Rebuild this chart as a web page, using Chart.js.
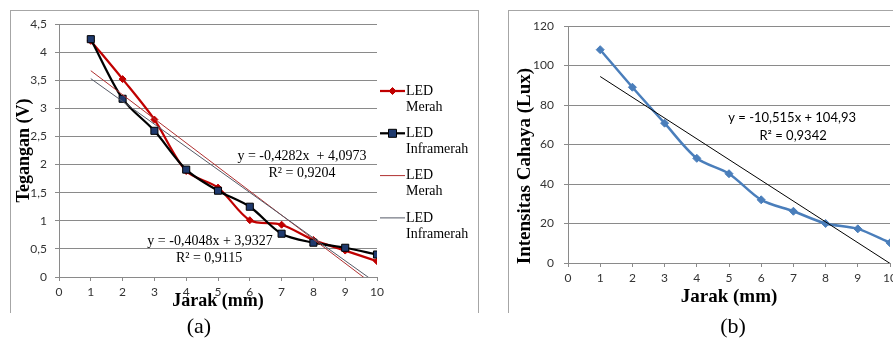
<!doctype html>
<html>
<head>
<meta charset="utf-8">
<title>Tegangan dan Intensitas Cahaya</title>
<script src="https://cdn.jsdelivr.net/npm/chart.js@4.4.1/dist/chart.umd.min.js"></script>
<style>
  body { margin: 0; width: 893px; height: 342px; overflow: hidden; background: #fff; position: relative; }
  .frame { position: absolute; top: 10px; height: 302px; border: 1px solid #a6a6a6; border-bottom: none; }
  .box { position: absolute; top: 0; }
  .cap { position: absolute; top: 313px; font: 22px "Liberation Serif", serif; color: #000; width: 40px; text-align: center; }
</style>
</head>
<body>
<div class="frame" style="left:10px; width:467px;"></div>
<div class="frame" style="left:508px; width:420px;"></div>
<div class="box" style="left:0px;"><canvas id="chartA" width="480" height="342"></canvas></div>
<div class="box" style="left:450px;"><canvas id="chartB" width="460" height="342"></canvas></div>
<div class="cap" style="left:179px;">(a)</div>
<div class="cap" style="left:713px;">(b)</div>
<script>
  // data
  const jarak = [1, 2, 3, 4, 5, 6, 7, 8, 9, 10];
  const teganganMerah = [4.20, 3.52, 2.80, 1.885, 1.59, 1.01, 0.93, 0.66, 0.47, 0.28];
  const teganganInfra = [4.23, 3.17, 2.60, 1.91, 1.535, 1.25, 0.77, 0.61, 0.52, 0.40];
  const intensitas = [108, 89, 70.8, 53, 45.2, 32, 26.2, 20, 17.3, 10.2];

  // linear trendlines [slope, intercept] as printed on the chart
  const trendMerah = [-0.4282, 4.0973];
  const trendInfra = [-0.4048, 3.9327];
  const trendCahaya = [-10.515, 104.93];

  const labelsA = ['LED Merah', 'LED Inframerah', 'LED Merah', 'LED Inframerah'];
  const labelB = 'Intensitas Cahaya';

  function pairs(xs, ys) {
    return xs.map((x, i) => ({ x: x, y: ys[i] }));
  }
  function trend(t) {
    const ends = [jarak[0], jarak[jarak.length - 1]];
    return ends.map(x => ({ x: x, y: t[0] * x + t[1] }));
  }
  function comma(v) {
    return String(v).replace('.', ',');
  }

  const tickFont = { family: 'Lato, "Liberation Sans", sans-serif', size: 12 };
  const serif = '"Liberation Serif", "Times New Roman", serif';
  const gridGray = '#8a8a8a';

  // draws legend entries, equation texts and a free vertical title
  const extras = {
    id: 'extras',
    afterDraw(chart, args, opts) {
      const ctx = chart.ctx;
      ctx.save();
      if (opts.legend) {
        const L = opts.legend;
        chart.data.datasets.forEach((ds, i) => {
          const y = L.y + i * L.gap;
          ctx.strokeStyle = ds.borderColor;
          ctx.lineWidth = ds.borderWidth;
          ctx.beginPath();
          ctx.moveTo(L.x, y);
          ctx.lineTo(L.x + L.len, y);
          ctx.stroke();
          const cx = L.x + L.len / 2;
          const r = ds.pointRadius;
          if (r) {
            ctx.fillStyle = ds.pointBackgroundColor;
            ctx.strokeStyle = ds.pointBorderColor;
            ctx.lineWidth = ds.pointBorderWidth;
            ctx.beginPath();
            if (ds.pointStyle === 'rect') {
              ctx.rect(cx - r * 0.8, y - r * 0.8, r * 1.6, r * 1.6);
            } else {
              ctx.moveTo(cx, y - r); ctx.lineTo(cx + r, y); ctx.lineTo(cx, y + r); ctx.lineTo(cx - r, y); ctx.closePath();
            }
            ctx.fill();
            ctx.stroke();
          }
          ctx.fillStyle = '#000';
          ctx.font = L.font;
          ctx.textBaseline = 'middle';
          ctx.textAlign = 'left';
          ds.label.split(' ').forEach((w, k) => ctx.fillText(w, L.x + L.len + 1, y + k * L.line));
        });
      }
      (opts.texts || []).forEach(t => {
        ctx.fillStyle = '#000';
        ctx.font = t.font;
        ctx.textAlign = 'center';
        ctx.textBaseline = 'middle';
        const px = chart.scales.x.getPixelForValue(t.at[0]);
        const py = chart.scales.y.getPixelForValue(t.at[1]);
        ctx.fillText(t.text, px, py);
      });
      if (opts.vtitle) {
        const v = opts.vtitle;
        ctx.translate(v.x, v.y);
        ctx.rotate(-Math.PI / 2);
        ctx.fillStyle = '#000';
        ctx.font = v.font;
        ctx.textAlign = 'center';
        ctx.textBaseline = 'middle';
        ctx.fillText(v.text, 0, 0);
      }
      ctx.restore();
    }
  };

  function xAxis(height, titleSize) {
    return {
      type: 'linear', min: 0, max: 10,
      ticks: { stepSize: 1, color: '#333', font: tickFont, padding: 4, maxRotation: 0 },
      grid: { drawOnChartArea: false, drawTicks: true, tickLength: 4, color: gridGray },
      border: { color: gridGray, width: 1 },
      title: { display: true, text: 'Jarak (mm)', color: '#000', font: { family: serif, size: titleSize, weight: 'bold' }, padding: 0 },
      afterFit(s) { s.height = height; }
    };
  }

  const chartA = new Chart(document.getElementById('chartA'), {
    type: 'line',
    data: {
      datasets: [
        {
          label: labelsA[0], data: pairs(jarak, teganganMerah), order: 4,
          borderColor: '#c00000', borderWidth: 2.25, tension: 0.3,
          pointStyle: 'rectRot', pointRadius: 3.5, pointBackgroundColor: '#c00000', pointBorderColor: '#c00000', pointBorderWidth: 1
        },
        {
          label: labelsA[1], data: pairs(jarak, teganganInfra), order: 3,
          borderColor: '#000000', borderWidth: 2.25, tension: 0.3,
          pointStyle: 'rect', pointRadius: 5, pointBackgroundColor: '#1f3a6e', pointBorderColor: '#000', pointBorderWidth: 1
        },
        {
          label: labelsA[2], data: trend(trendMerah), order: 2,
          borderColor: '#b03030', borderWidth: 1, pointRadius: 0, tension: 0
        },
        {
          label: labelsA[3], data: trend(trendInfra), order: 1,
          borderColor: '#555a66', borderWidth: 1, pointRadius: 0, tension: 0
        }
      ]
    },
    options: {
      responsive: false,
      animation: false,
      events: [],
      layout: { padding: { left: 0, top: 24, right: 103, bottom: 30 } },
      plugins: {
        legend: { display: false },
        tooltip: { enabled: false },
        extras: {
          legend: { x: 380, y: 91, gap: 42.3, len: 25, line: 16, font: '14px ' + serif },
          texts: [
            { text: 'y = -0,4282x  + 4,0973', at: [7.64, 2.15], font: '14px ' + serif },
            { text: 'R² = 0,9204', at: [7.64, 1.85], font: '14px ' + serif },
            { text: 'y = -0,4048x + 3,9327', at: [4.75, 0.64], font: '14px ' + serif },
            { text: 'R² = 0,9115', at: [4.72, 0.34], font: '14px ' + serif }
          ]
        }
      },
      scales: {
        x: xAxis(35, 18),
        y: {
          min: 0, max: 4.5,
          ticks: { stepSize: 0.5, color: '#333', font: tickFont, padding: 8, callback: v => comma(v) },
          grid: { color: gridGray, tickLength: 4 },
          border: { color: gridGray, width: 1 },
          title: { display: true, text: 'Tegangan (V)', color: '#000', font: { family: serif, size: 18, weight: 'bold' }, padding: { top: 14 } },
          afterFit(s) { s.width = 59; }
        }
      }
    },
    plugins: [extras]
  });

  const chartB = new Chart(document.getElementById('chartB'), {
    type: 'line',
    data: {
      datasets: [
        {
          label: labelB, data: pairs(jarak, intensitas), order: 2,
          borderColor: '#4a7ebb', borderWidth: 2.5, tension: 0.3,
          pointStyle: 'rectRot', pointRadius: 4, pointBackgroundColor: '#4a7ebb', pointBorderColor: '#4a7ebb', pointBorderWidth: 1
        },
        {
          label: 'Linear (' + labelB + ')', data: trend(trendCahaya), order: 1,
          borderColor: '#000', borderWidth: 1, pointRadius: 0, tension: 0
        }
      ]
    },
    options: {
      responsive: false,
      animation: false,
      events: [],
      layout: { padding: { left: 58, top: 26, right: 20, bottom: 34 } },
      plugins: {
        legend: { display: false },
        tooltip: { enabled: false },
        extras: {
          vtitle: { text: 'Intensitas Cahaya (Lux)', x: 75, y: 166, font: 'bold 19px ' + serif },
          texts: [
            { text: 'y = -10,515x + 104,93', at: [6.96, 73.4], font: '13px Lato, "Liberation Sans", sans-serif' },
            { text: 'R² = 0,9342', at: [6.99, 64.3], font: '13px Lato, "Liberation Sans", sans-serif' }
          ]
        }
      },
      scales: {
        x: xAxis(45, 19),
        y: {
          min: 0, max: 120,
          ticks: { stepSize: 20, color: '#333', font: tickFont, padding: 10 },
          grid: { color: gridGray, tickLength: 4 },
          border: { color: gridGray, width: 1 },
          title: { display: false },
          afterFit(s) { s.width = 60; }
        }
      }
    },
    plugins: [extras]
  });
</script>
</body>
</html>
